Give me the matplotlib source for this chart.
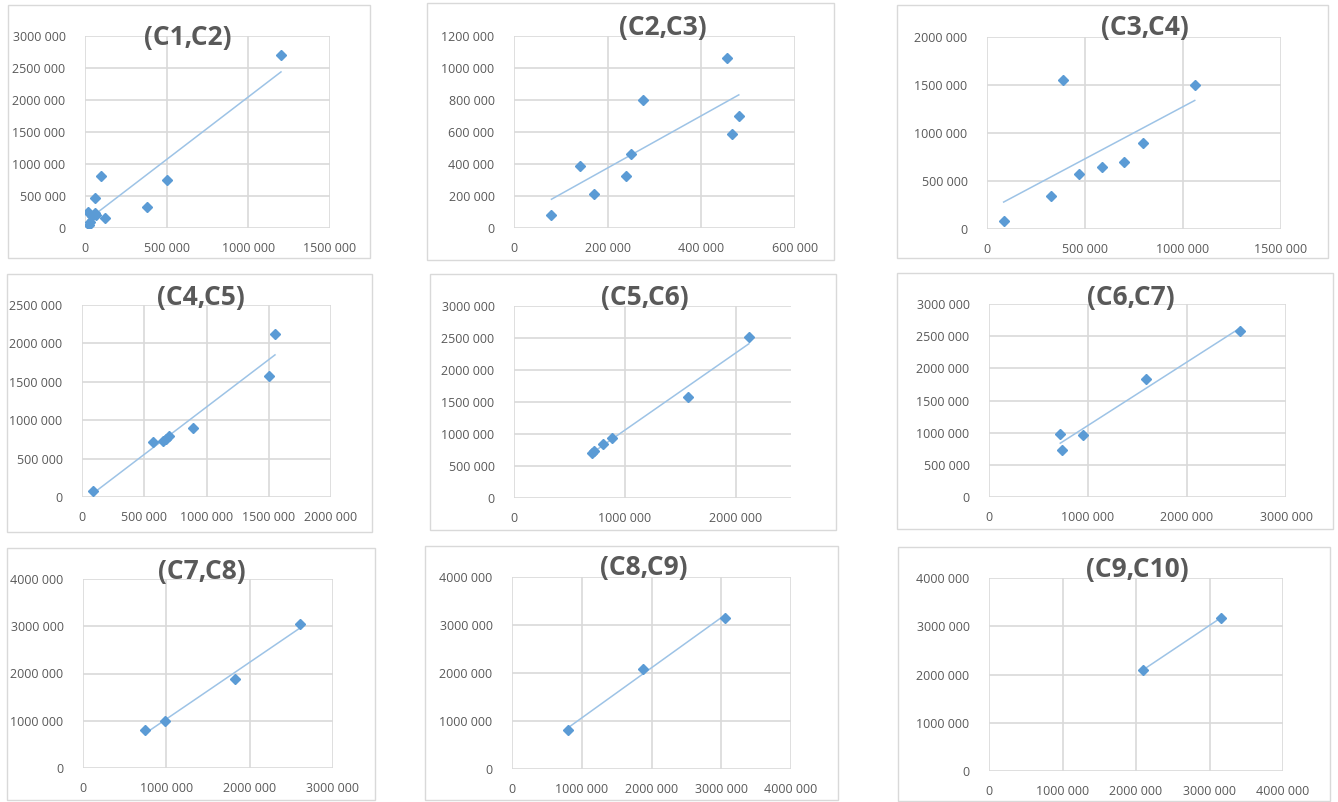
import numpy as np
import matplotlib
matplotlib.use("Agg")
import matplotlib.pyplot as plt
from matplotlib.patches import Rectangle
from matplotlib.ticker import FuncFormatter

# ---- data ----
titles = ["(C1,C2)", "(C2,C3)", "(C3,C4)",
          "(C4,C5)", "(C5,C6)", "(C6,C7)",
          "(C7,C8)", "(C8,C9)", "(C9,C10)"]

x_c1c2 = [1200000, 505000, 380000, 100000, 60000, 122000, 20000, 60000, 45000, 30000, 25000, 70000]
y_c1c2 = [2700000, 750000, 335000, 820000, 465000, 160000, 250000, 230000, 180000, 100000, 50000, 200000]

x_c2c3 = [80000, 140000, 170000, 240000, 250000, 275000, 455000, 465000, 480000]
y_c2c3 = [80000, 385000, 210000, 325000, 465000, 800000, 1060000, 585000, 700000]

x_c3c4 = [85000, 325000, 390000, 470000, 585000, 700000, 795000, 1060000]
y_c3c4 = [80000, 345000, 1550000, 575000, 645000, 700000, 895000, 1505000]

x_c4c5 = [85000, 570000, 650000, 675000, 700000, 890000, 1500000, 1550000]
y_c4c5 = [80000, 710000, 730000, 760000, 800000, 895000, 1575000, 2120000]

x_c5c6 = [700000, 720000, 800000, 885000, 1570000, 2120000]
y_c5c6 = [705000, 735000, 845000, 945000, 1575000, 2510000]

x_c6c7 = [720000, 740000, 950000, 1590000, 2540000]
y_c6c7 = [980000, 730000, 960000, 1830000, 2580000]

x_c7c8 = [740000, 980000, 1825000, 2600000]
y_c7c8 = [810000, 985000, 1875000, 3050000]

x_c8c9 = [810000, 1880000, 3050000]
y_c8c9 = [810000, 2090000, 3155000]

x_c9c10 = [2095000, 3150000]
y_c9c10 = [2095000, 3170000]

xs = [x_c1c2, x_c2c3, x_c3c4, x_c4c5, x_c5c6, x_c6c7, x_c7c8, x_c8c9, x_c9c10]
ys = [y_c1c2, y_c2c3, y_c3c4, y_c4c5, y_c5c6, y_c6c7, y_c7c8, y_c8c9, y_c9c10]

# axis ranges: (max, step)
x_axes = [(1500000, 500000), (600000, 200000), (1500000, 500000),
          (2000000, 500000), (2500000, 1000000), (3000000, 1000000),
          (3000000, 1000000), (4000000, 1000000), (4000000, 1000000)]
y_axes = [(3000000, 500000), (1200000, 200000), (2000000, 500000),
          (2500000, 500000), (3000000, 500000), (3000000, 500000),
          (4000000, 1000000), (4000000, 1000000), (4000000, 1000000)]

# ---- layout in pixels (left, top, right, bottom) ----
W, H = 1338, 802
boxes = [(8, 5, 370, 258), (427, 3, 834, 260), (897, 5, 1328, 258),
         (7, 274, 372, 532), (430, 274, 836, 530), (897, 273, 1333, 529),
         (7, 548, 375, 800), (425, 546, 838, 800), (898, 547, 1330, 801)]
plots = [(85, 36, 330, 228), (514, 36, 795, 228), (987, 37, 1281, 229),
         (82, 305, 331, 497), (514, 306, 791, 498), (989, 304, 1286, 497),
         (83, 579, 333, 768), (512, 577, 791, 769), (989, 578, 1283, 771)]
title_pos = [(188, 38), (663, 27), (1145, 27),
             (201, 297), (645, 297), (1131, 297),
             (202, 572), (644, 568), (1137, 570)]

BLUE = "#5b9bd5"
TREND = "#9dc3e6"
GRID = "#d9d9d9"
TXT = "#595959"


def fmt(v, pos):
    v = int(round(v))
    if v >= 1000:
        return "{} {:03d}".format(v // 1000, v % 1000)
    return str(v)


fig = plt.figure(figsize=(W / 100, H / 100), dpi=100)
fig.patch.set_facecolor("white")

for i in range(9):
    bl, bt, br, bb = boxes[i]
    fig.patches.append(Rectangle((bl / W, 1 - bb / H), (br - bl) / W, (bb - bt) / H,
                                 transform=fig.transFigure, fill=False,
                                 edgecolor=GRID, linewidth=1))

    pl, pt, pr, pb = plots[i]
    ax = fig.add_axes([pl / W, 1 - pb / H, (pr - pl) / W, (pb - pt) / H])
    x = np.array(xs[i], dtype=float)
    y = np.array(ys[i], dtype=float)

    # linear trend line over the data range
    k, b = np.polyfit(x, y, 1)
    tx = np.array([x.min(), x.max()])
    ax.plot(tx, k * tx + b, color=TREND, linewidth=1.1, zorder=2)
    ax.plot(x, y, "D", color=BLUE, markersize=5, linestyle="none", zorder=3)

    xmax, xstep = x_axes[i]
    ymax, ystep = y_axes[i]
    ax.set_xlim(0, xmax)
    ax.set_ylim(0, ymax)
    ax.set_xticks(np.arange(0, xmax + 1, xstep))
    ax.set_yticks(np.arange(0, ymax + 1, ystep))
    ax.xaxis.set_major_formatter(FuncFormatter(fmt))
    ax.yaxis.set_major_formatter(FuncFormatter(fmt))
    ax.grid(True, color=GRID, linewidth=1.2, zorder=0)
    ax.set_axisbelow(True)
    for s in ax.spines.values():
        s.set_visible(False)
    ax.tick_params(length=0, labelsize=9, labelcolor=TXT, pad=10)
    ax.tick_params(axis="y", pad=14)
    for lab in ax.get_xticklabels() + ax.get_yticklabels():
        lab.set_fontfamily("Open Sans")

    cx, cy = title_pos[i]
    fig.text(cx / W, 1 - cy / H, titles[i], ha="center", va="center",
             fontsize=19, fontweight="bold", color=TXT, family="Open Sans")

fig.savefig("out.png", dpi=100)
